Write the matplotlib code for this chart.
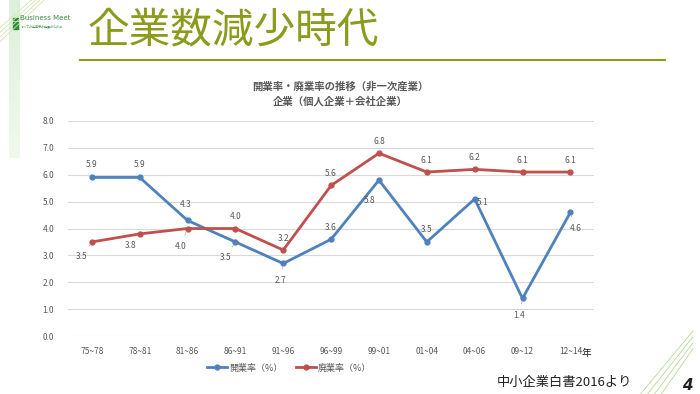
import matplotlib.pyplot as plt
import numpy as np

plt.rcParams['font.family'] = ['Noto Sans CJK JP', 'DejaVu Sans']

periods = ['75~78', '78~81', '81~86', '86~91', '91~96', '96~99',
           '99~01', '01~04', '04~06', '09~12', '12~14']
kaigyo = [5.9, 5.9, 4.3, 3.5, 2.7, 3.6, 5.8, 3.5, 5.1, 1.4, 4.6]
haigyo = [3.5, 3.8, 4.0, 4.0, 3.2, 5.6, 6.8, 6.1, 6.2, 6.1, 6.1]
series_names = ['開業率（%）', '廃業率（%）']

# label offsets in pixels (dx, dy), and whether a leader line is drawn
kai_off = [(0, 13), (0, 13), (-2, 16), (-10, -16), (-3, -17), (0, 12),
           (-9, -20), (0, 12), (8, -4), (-3, -17), (5, -16)]
kai_lead = [0, 0, 1, 1, 1, 0, 0, 0, 0, 1, 1]
hai_off = [(-10, -15), (-9, -12), (-7, -18), (0, 12), (0, 12), (0, 12),
           (0, 12), (0, 12), (0, 12), (0, 12), (0, 12)]
hai_lead = [1, 0, 1, 0, 0, 0, 0, 0, 0, 0, 0]

blue = '#4f81bd'
red = '#c0504d'
olive = '#8c9b1c'
gray = '#595959'

fig = plt.figure(figsize=(7, 3.94), dpi=100)
fig.patch.set_facecolor('white')

# background decoration: faint green strip at left
grad = np.linspace(1, 0, 100).reshape(-1, 1)
strip = fig.add_axes([0.013, 0.6, 0.015, 0.4])
strip.imshow(grad, aspect='auto', cmap='Greens', vmin=-1, vmax=4, alpha=0.35)
strip.axis('off')
for k in range(4):
    fig.add_artist(plt.Line2D([0.0, 0.045 + k * 0.006], [0.93 - k * 0.012, 1.0],
                              color='#d3e4b4', lw=0.6, transform=fig.transFigure))
    fig.add_artist(plt.Line2D([0.915 + k * 0.01, 0.99], [0.0, 0.16 - k * 0.015],
                              color='#b9d89a', lw=0.6, transform=fig.transFigure))

# logo
for k in range(3):
    fig.add_artist(plt.Rectangle((0.018, 0.948 - k * 0.011), 0.007, 0.007,
                                 color='#2e8b3a', transform=fig.transFigure))
fig.text(0.029, 0.955, 'Business Meet', fontsize=5, color='#3c8c46',
         ha='left', va='center', family=['DejaVu Sans'])
fig.text(0.029, 0.933, 'すべての企業様の発展のために', fontsize=2.2, color='#3c8c46',
         ha='left', va='center')

# heading
fig.text(0.125, 0.922, '企業数減少時代', fontsize=30, color=olive,
         ha='left', va='center')
fig.add_artist(plt.Line2D([0.114, 0.95], [0.848, 0.848], color=olive, lw=1.5,
                          transform=fig.transFigure))

# chart title
fig.text(0.486, 0.779, '開業率・廃業率の推移（非一次産業）', fontsize=7.5,
         color=gray, ha='center', va='center', fontweight='bold')
fig.text(0.486, 0.743, '企業（個人企業＋会社企業）', fontsize=7.5,
         color=gray, ha='center', va='center', fontweight='bold')

ax = fig.add_axes([0.097, 0.147, 0.752, 0.546])
x = np.arange(len(periods))
ax.plot(x, kaigyo, color=blue, lw=2, marker='o', ms=3.5, label=series_names[0])
ax.plot(x, haigyo, color=red, lw=2, marker='o', ms=3.5, label=series_names[1])

for vals, offs, leads in [(kaigyo, kai_off, kai_lead), (haigyo, hai_off, hai_lead)]:
    for i, v in enumerate(vals):
        ap = dict(arrowstyle='-', color='#a6a6a6', lw=0.5, shrinkA=3, shrinkB=2) if leads[i] else None
        ax.annotate(f'{v:.1f}', (x[i], v), xytext=offs[i], textcoords='offset pixels',
                    ha='center', va='center', fontsize=6, color=gray, arrowprops=ap)

ax.set_xlim(-0.5, len(periods) - 0.5)
ax.set_ylim(0, 8)
ax.set_yticks(np.arange(0, 9, 1))
ax.set_yticklabels([f'{t:.1f}' for t in range(9)])
ax.set_xticks(x)
ax.set_xticklabels(periods)
ax.tick_params(length=0, labelsize=6, colors=gray, pad=8)
ax.tick_params(axis='y', pad=10)
ax.grid(axis='y', color='#d9d9d9', lw=0.8)
ax.set_axisbelow(True)
for s in ax.spines.values():
    s.set_visible(False)

fig.text(0.838, 0.105, '年', fontsize=7, color='#222222', ha='center', va='center')

ax.legend(loc='upper center', bbox_to_anchor=(0.42, -0.09), ncol=2, frameon=False,
          fontsize=6.5, labelcolor=gray, handlelength=2.2, handletextpad=0.2,
          columnspacing=1.5)

fig.text(0.903, 0.03, '中小企業白書2016より', fontsize=9.5, color='#222222',
         ha='right', va='center')
fig.text(0.99, 0.022, '4', fontsize=11, color='#222222', ha='right', va='center',
         fontweight='bold', fontstyle='italic', family=['DejaVu Sans'])

fig.savefig('out.png', dpi=100)
